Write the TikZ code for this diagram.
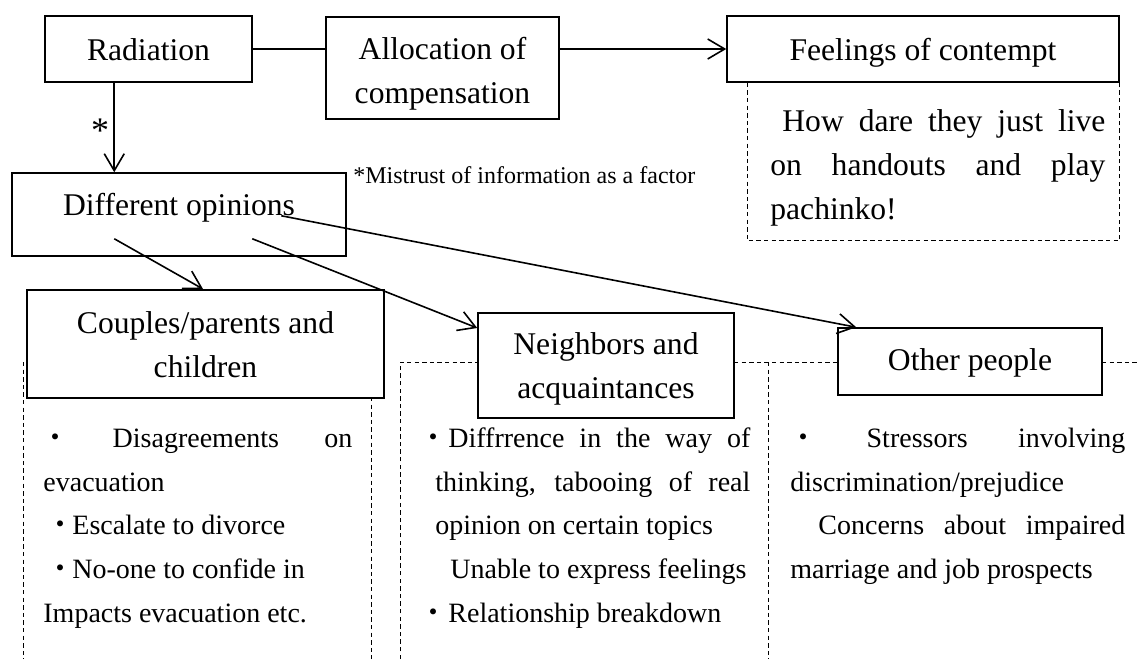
\documentclass[tikz,border=0pt]{standalone}
\usepackage{fontspec}
\setmainfont{Liberation Serif}
\newfontfamily\cjk{Noto Sans CJK JP}
\usetikzlibrary{arrows.meta,calc}
\newcommand\kdot{{\cjk ・}}
\newcommand\hdr{\fontsize{15.8}{22}\selectfont}
\newcommand\bdy{\fontsize{14}{21.875}\selectfont}
\newcommand\ftn{\fontsize{12}{14}\selectfont}
\begin{document}
\begin{tikzpicture}[x=0.5pt,y=-0.5pt,
  box/.style={draw, line width=0.75pt, fill=white, inner sep=0pt, align=center, font=\hdr},
  arr/.style={line width=0.8pt, -{Straight Barb[length=8.5pt,width=10pt]}},
  ln/.style={line width=0.8pt},
  dsh/.style={line width=0.5pt, dash pattern=on 2.2pt off 1.6pt},
  body/.style={inner sep=0pt, anchor=north west, align=left, font=\bdy},
]
\useasboundingbox (0,0) rectangle (1137,659);

% boxes
\node[box, minimum width=103.5pt, text height=22pt, text depth=11pt, anchor=base] (rad) at (148.5,60) {Radiation};
\node[box, minimum width=116.5pt, anchor=north] (alloc) at (442.5,16) {\rule{0pt}{21.5pt}Allocation of\\compensation\rule[-7.5pt]{0pt}{7.5pt}};
\node[box, minimum width=196pt, text height=22pt, text depth=11pt, anchor=base] (feel) at (923,60) {Feelings of contempt};
\node[box, minimum width=167pt, text height=21pt, text depth=20.5pt, anchor=base] (diff) at (179,215) {Different opinions};
\node[box, minimum width=178.5pt, anchor=north] (cpl) at (205.5,289) {\rule{0pt}{22pt}Couples/parents and\\children\rule[-10pt]{0pt}{10pt}};
\node[box, minimum width=128pt, anchor=north] (nbr) at (606,312) {\rule{0pt}{21pt}Neighbors and\\acquaintances\rule[-9.5pt]{0pt}{9.5pt}};
\node[box, minimum width=132pt, text height=21pt, text depth=12.5pt, anchor=base] (oth) at (970,370) {Other people};

% labels
\node[font=\fontsize{18}{20}\selectfont, inner sep=0pt] (star) at (100,131) {*};
\node[font=\ftn, inner sep=0pt, anchor=base west] (note) at (353,183) {*Mistrust of information as a factor};

% text blocks
\node[body, font=\hdr] (feeltxt) at (770,103) {\rule{0pt}{14pt}\hspace*{6pt}\makebox[161.5pt][s]{How dare they just live}\\\makebox[167.5pt][s]{on handouts and play}\\pachinko!};
\node[body] (cpltxt) at (43,419) {\rule{0pt}{14pt}\makebox[154.5pt][s]{\makebox[12pt]{\kdot} Disagreements on}\\evacuation\\\hspace*{2.5pt}\makebox[12pt]{\kdot}Escalate to divorce\\\hspace*{2.5pt}\makebox[12pt]{\kdot}No-one to confide in\\Impacts evacuation etc.};
\node[body] (nbrtxt) at (435,419) {\rule{0pt}{14pt}\hspace*{-8.5pt}\makebox[166pt][s]{\makebox[15pt]{\kdot}Diffrrence in the way of}\\\makebox[157.5pt][s]{thinking, tabooing of real}\\opinion on certain topics\\\hspace*{7.5pt}Unable to express feelings\\\hspace*{-8.5pt}\makebox[15pt]{\kdot}Relationship breakdown};
\node[body] (othtxt) at (790,419) {\rule{0pt}{14pt}\makebox[167.5pt][s]{\makebox[13pt]{\kdot} Stressors involving}\\discrimination/prejudice\\\hspace*{14pt}\makebox[153.5pt][s]{Concerns about impaired}\\marriage and job prospects};

% dashed frames
\draw[dsh] ($(feel.south west)+(21,0)$) -- ++(0,158) -| (feel.south east);
\draw[dsh] (23,362) -- (23,659);
\draw[dsh] (371,397) -- (371,659);
\draw[dsh] (400,659) -- (400,362) -- (478,362);
\draw[dsh] (734,362) -- (838,362);
\draw[dsh] (768,362) -- (768,659);
\draw[dsh] (1102,362) -- (1137,362);

% connectors
\draw[ln] (rad.east) -- (rad.east -| alloc.west);
\draw[arr] (feel.west -| alloc.east) -- (feel.west);
\coordinate (r1) at ($(rad.south west)+(70,0)$);
\draw[arr] (r1) -- (r1 |- diff.north);
\draw[arr] ($(diff.south west)+(103,-18)$) -- ($(cpl.north)+(-2.5,0)$);
\draw[arr] ($(diff.south west)+(241,-18)$) -- ($(nbr.north west)+(0,16)$);
\draw[arr] ($(diff.south west)+(270,-41)$) -- ($(oth.north west)+(19,0)$);
\end{tikzpicture}
\end{document}
